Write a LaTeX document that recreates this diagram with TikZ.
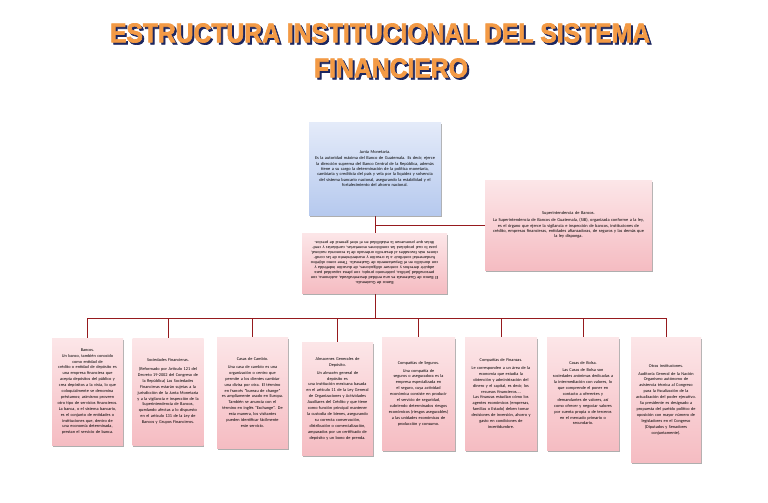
\documentclass[tikz,border=0pt]{standalone}
\usepackage{fontspec}
\setmainfont{Carlito}
\newfontfamily\titlefont[FakeBold=2.5]{Liberation Sans Bold}
\usetikzlibrary{shadows}
\definecolor{connred}{HTML}{961A1E}
\definecolor{pinktop}{HTML}{FCE6E8}
\definecolor{pinkbot}{HTML}{F5BCC2}
\definecolor{bluetop}{HTML}{E4EBF9}
\definecolor{bluebot}{HTML}{B6C9EE}
\definecolor{titleor}{HTML}{F39A45}
\definecolor{titlesh}{HTML}{1B2660}
\pgfdeclarelayer{back}
\pgfsetlayers{back,main}
\newcommand{\boxtxt}{\fontsize{4.3}{5.9}\selectfont}
\newcommand{\toptxt}{\fontsize{4.4}{5.4}\selectfont}
\newcommand{\shtitle}[3]{{\color{titlesh}\rlap{\kern2pt\raisebox{-2pt}{\resizebox{#1}{#2}{\titlefont #3}}}}{\color{titleor}\resizebox{#1}{#2}{\titlefont #3}}}
\begin{document}
\begin{tikzpicture}[x=1pt,y=-1pt,
  conn/.style={draw=connred, line width=1pt},
  boxbase/.style={draw=none, inner sep=2pt, align=center,
    drop shadow={shadow xshift=0.6pt, shadow yshift=-2pt, opacity=0.45, fill=black!70}},
  pinkbox/.style={boxbase, top color=pinktop, bottom color=pinkbot, font=\boxtxt},
  bluebox/.style={boxbase, top color=bluetop, bottom color=bluebot, font=\toptxt},
  ttl/.style={inner sep=0pt}
]
\useasboundingbox (0,0) rectangle (768,503);
\begin{pgfonlayer}{back}
\fill[white] (0,0) rectangle (768,503);
\end{pgfonlayer}

% title
\node[ttl] (t1) at (380,34) {\shtitle{540pt}{19pt}{ESTRUCTURA INSTITUCIONAL DEL SISTEMA}};
\node[ttl] (t2) at (391,69) {\shtitle{154pt}{19pt}{FINANCIERO}};

% top boxes
\node[bluebox, text width=128pt, minimum width=132pt, minimum height=93pt] (junta) at (375,168.5)
{Junta Monetaria.\\[1pt]
Es la autoridad máxima del Banco de Guatemala. Es decir, ejerce\\
la dirección suprema del Banco Central de la República, además\\
tiene a su cargo la determinación de la política monetaria,\\
cambiaria y crediticia del país y vela por la liquidez y solvencia\\
del sistema bancario nacional, asegurando la estabilidad y el\\
fortalecimiento del ahorro nacional.};

\node[pinkbox, font=\toptxt, text width=163pt, minimum width=167pt, minimum height=90pt] (sib) at (568.5,225)
{Superintendencia de Bancos.\\[2pt]
La Superintendencia de Bancos de Guatemala, (SIB), organizada conforme a la ley,\\
es el órgano que ejerce la vigilancia e inspección de bancos, instituciones de\\
crédito, empresas financieras, entidades afianzadoras, de seguros y las demás que\\
la ley disponga.};

\node[pinkbox, minimum width=145pt, minimum height=60pt] (banguat) at (374.5,263) {};
\node[inner sep=0pt, align=center, text width=139pt, rotate=180, font=\fontsize{4.3}{5.0}\selectfont] (banguattxt) at (banguat.center)
{Banco de Guatemala.\\
El Banco de Guatemala es una entidad descentralizada, autónoma, con personalidad jurídica, patrimonio propio, con plena capacidad para adquirir derechos y contraer obligaciones, de duración indefinida y con domicilio en el Departamento de Guatemala. Tiene como objetivo fundamental contribuir a la creación y mantenimiento de las condiciones más favorables al desarrollo ordenado de la economía nacional, para lo cual propiciará las condiciones monetarias, cambiarias y crediticias que promuevan la estabilidad en el nivel general de precios.};

% bottom boxes
\node[pinkbox, text width=67pt, minimum width=71pt, minimum height=107pt] (bancos) at (87.5,391.5)
{Bancos.\\
Un banco, también conocido\\
como entidad de\\
crédito o entidad de depósito es\\
una empresa financiera que\\
acepta depósitos del público y\\
crea depósitos a la vista, lo que\\
coloquialmente se denomina\\
préstamos; asimismo proveen\\
otro tipo de servicios financieros.\\
La banca, o el sistema bancario,\\
es el conjunto de entidades o\\
instituciones que, dentro de\\
una economía determinada,\\
prestan el servicio de banca.};

\node[pinkbox, text width=67pt, minimum width=71pt, minimum height=107pt] (socied) at (168,391.5)
{Sociedades Financieras.\\[3pt]
(Reformado por Artículo 121 del\\
Decreto 19-2002 del Congreso de\\
la República) Las Sociedades\\
Financieras estarán sujetas a la\\
jurisdicción de la Junta Monetaria\\
y a la vigilancia e inspección de la\\
Superintendencia de Bancos,\\
quedando afectas a lo dispuesto\\
en el artículo 131 de la Ley de\\
Bancos y Grupos Financieros.};

\node[pinkbox, text width=67pt, minimum width=71pt, minimum height=111pt] (cambio) at (252.5,392.5)
{Casas de Cambio.\\[2pt]
Una casa de cambio es una\\
organización o centro que\\
permite a los clientes cambiar\\
una divisa por otra. El término\\
en francés "bureau de change"\\
es ampliamente usado en Europa.\\
También se anuncia con el\\
término en inglés "Exchange". De\\
esta manera, los visitantes\\
pueden identificar fácilmente\\
este servicio.};

\node[pinkbox, text width=67pt, minimum width=71pt, minimum height=113pt] (almac) at (337.5,398.5)
{Almacenes Generales de\\
Depósito.\\[2pt]
Un almacén general de\\
depósito es\\
una institución mexicana basada\\
en el artículo 11 de la Ley General\\
de Organizaciones y Actividades\\
Auxiliares del Crédito y que tiene\\
como función principal mantener\\
la custodia de bienes, asegurando\\
su correcta conservación,\\
distribución o comercialización,\\
amparados por un certificado de\\
depósito y un bono de prenda.};

\node[pinkbox, text width=69pt, minimum width=73pt, minimum height=113pt] (seguros) at (418.5,393.5)
{Compañías de Seguros.\\[2pt]
Una compañía de\\
seguros o aseguradora es la\\
empresa especializada en\\
el seguro, cuya actividad\\
económica consiste en producir\\
el servicio de seguridad,\\
cubriendo determinados riesgos\\
económicos (riesgos asegurables)\\
a las unidades económicas de\\
producción y consumo.};

\node[pinkbox, text width=68pt, minimum width=72pt, minimum height=113pt] (finanzas) at (501,393.5)
{Compañías de Finanzas.\\[2pt]
Le corresponden a un área de la\\
economía que estudia la\\
obtención y administración del\\
dinero y el capital, es decir, los\\
recursos financieros....\\
Las finanzas estudian cómo los\\
agentes económicos (empresas,\\
familias o Estado) deben tomar\\
decisiones de inversión, ahorro y\\
gasto en condiciones de\\
incertidumbre.};

\node[pinkbox, text width=68pt, minimum width=72pt, minimum height=113pt] (bolsa) at (583,393.5)
{Casas de Bolsa.\\[1pt]
Las Casas de Bolsa son\\
sociedades anónimas dedicadas a\\
la intermediación con valores, lo\\
que comprende el poner en\\
contacto a oferentes y\\
demandantes de valores, así\\
como ofrecer y negociar valores\\
por cuenta propia o de terceros\\
en el mercado primario o\\
secundario.};

\node[pinkbox, text width=66pt, minimum width=68pt, minimum height=125pt] (otras) at (666,399.5)
{Otras instituciones.\\[2pt]
Auditoría General de la Nación\\
Organismo autónomo de\\
asistencia técnica al Congreso\\
para la fiscalización de la\\
actualización del poder ejecutivo.\\
Su presidente es designado a\\
propuesta del partido político de\\
oposición con mayor número de\\
legisladores en el Congreso\\
(Diputados y Senadores\\
conjuntamente).};

% connectors
\coordinate (bus) at (375,318);
\begin{pgfonlayer}{back}
\draw[conn] (junta.south) -- (bus);
\draw[conn] (sib.west) -- (sib.west -| junta.south);
\draw[conn] (bancos.north |- bus) -- (otras.north |- bus);
\foreach \b in {bancos,socied,cambio,almac,seguros,finanzas,bolsa,otras}
  \draw[conn] (\b.north |- bus) -- (\b.north);
\end{pgfonlayer}
\end{tikzpicture}
\end{document}
